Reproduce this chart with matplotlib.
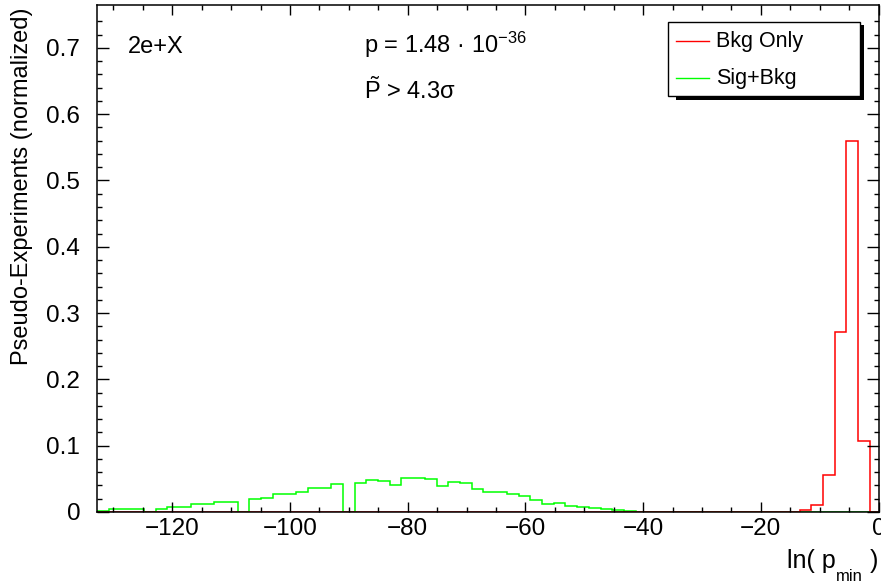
import numpy as np
import matplotlib
matplotlib.use('Agg')
import matplotlib.pyplot as plt
from matplotlib.patches import Rectangle
from matplotlib.lines import Line2D

plt.rcParams['font.family'] = ['Liberation Sans', 'DejaVu Sans']
plt.rcParams['mathtext.fontset'] = 'custom'
plt.rcParams['mathtext.rm'] = 'Liberation Sans'
plt.rcParams['mathtext.it'] = 'Liberation Sans:italic'

# histogram binning (ln p_min)
bin_lo = -132.8
bin_w = 1.99
n_bins = 67

# Sig+Bkg (green), normalized bin contents
sig_bkg = [0.0015, 0.004, 0.004, 0.004, 0.0, 0.005, 0.008, 0.008, 0.0116, 0.0116,
           0.0156, 0.0156, 0.0, 0.019, 0.021, 0.0267, 0.0267, 0.0297, 0.0367, 0.0367,
           0.0417, 0.0, 0.044, 0.048, 0.047, 0.041, 0.051, 0.051, 0.050, 0.039,
           0.0457, 0.043, 0.0347, 0.0297, 0.0307, 0.0267, 0.024, 0.018, 0.0125, 0.013,
           0.009, 0.0075, 0.0065, 0.005, 0.003, 0.001, 0.0005, 0.0003, 0, 0,
           0, 0, 0, 0, 0, 0, 0, 0, 0, 0,
           0, 0, 0, 0, 0, 0, 0]

# Bkg Only (red)
bkg_only = [0] * 60 + [0.003, 0.011, 0.056, 0.271, 0.56, 0.1075, 0.0]

edges = bin_lo + bin_w * np.arange(n_bins + 1)

W, H = 881, 585
fig = plt.figure(figsize=(W / 100, H / 100), dpi=100)
ax = fig.add_axes([97 / W, 1 - 512 / H, (878.5 - 97) / W, (512 - 5) / H])

ax.stairs(sig_bkg, edges, color='#00ff00', lw=1.1, baseline=0)
ax.stairs(bkg_only, edges, color='#ff0000', lw=1.1, baseline=0)

ax.set_xlim(-132.8, 0.0)
ax.set_ylim(0, 0.7647)

ax.set_xticks(np.arange(-120, 1, 20))
ax.set_xticks(np.arange(-130, 1, 5), minor=True)
ax.set_yticks(np.arange(0, 0.71, 0.1))
ax.set_yticks(np.arange(0, 0.76, 0.02), minor=True)
ax.set_yticklabels(['0', '0.1', '0.2', '0.3', '0.4', '0.5', '0.6', '0.7'])

ax.tick_params(which='both', direction='in', top=True, right=True, width=1.0, labelsize=17.5)
ax.tick_params(axis='x', which='major', length=7.5, pad=4.5)
ax.tick_params(axis='x', which='minor', length=3.3)
ax.tick_params(axis='y', which='major', length=8.5, pad=12)
ax.tick_params(axis='y', which='minor', length=3.6)
for s in ax.spines.values():
    s.set_linewidth(1.1)

ax.set_ylabel('Pseudo-Experiments (normalized)', fontsize=17, loc='top')
ax.yaxis.set_label_coords(-0.082, 0.996)


def fx(px):
    return px / W


def fy(py):
    return 1 - py / H


# x-axis title ln( p_min ), built right to left so it ends at the axis end
t_par = fig.text(fx(878), fy(568), ' )', fontsize=18, ha='right', va='baseline')
t_min = ax.annotate('min', xy=(0, fy(581)), xycoords=(t_par, 'figure fraction'),
                    fontsize=12, ha='right', va='baseline', annotation_clip=False)
ax.annotate('ln( p', xy=(0, fy(568)), xycoords=(t_min, 'figure fraction'),
            fontsize=18, ha='right', va='baseline', annotation_clip=False)

fig.text(fx(128), fy(53), '2e+X', fontsize=17, va='baseline')
fig.text(fx(364), fy(53), r'p = 1.48 · 10$^{-36}$', fontsize=17, va='baseline')
fig.text(fx(364), fy(99), r'$\tilde{\mathrm{P}}$ > 4.3σ', fontsize=17, va='baseline')

# legend box with ROOT-style shadow
fig.patches.append(Rectangle((fx(676), fy(99.5)), fx(863.5) - fx(676), fy(25) - fy(99.5),
                             transform=fig.transFigure, facecolor='black', edgecolor='none'))
fig.patches.append(Rectangle((fx(668), fy(96)), fx(860) - fx(668), fy(22) - fy(96),
                             transform=fig.transFigure, facecolor='white', edgecolor='black', lw=1.0))
fig.lines.append(Line2D([fx(676), fx(709)], [fy(41), fy(41)], transform=fig.transFigure,
                        color='#ff0000', lw=1.0))
fig.lines.append(Line2D([fx(676), fx(709)], [fy(78), fy(78)], transform=fig.transFigure,
                        color='#00ff00', lw=1.0))
fig.text(fx(716), fy(47), 'Bkg Only', fontsize=15.5, va='baseline')
fig.text(fx(716), fy(84), 'Sig+Bkg', fontsize=15.5, va='baseline')

fig.savefig('out.png', dpi=100)
